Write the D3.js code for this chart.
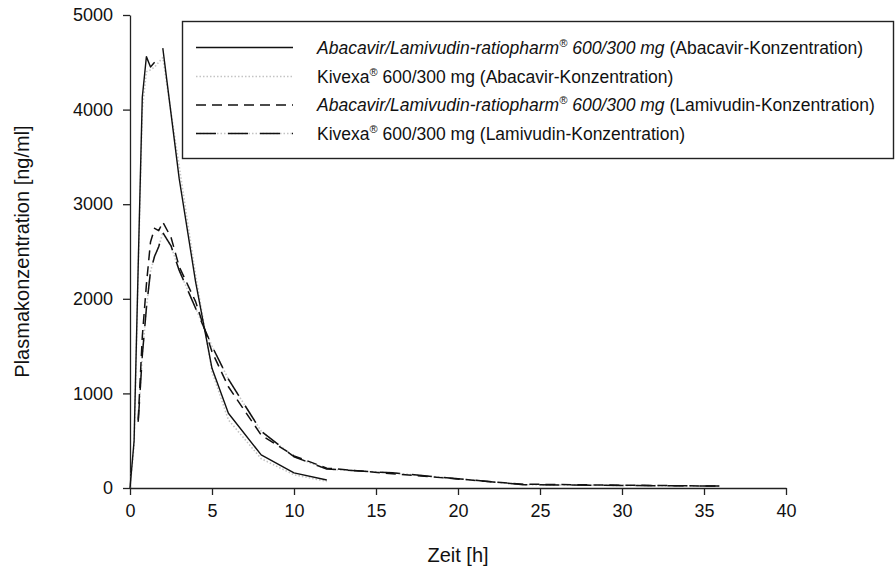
<!DOCTYPE html>
<html>
<head>
<meta charset="utf-8">
<script src="https://cdn.jsdelivr.net/npm/d3@7"></script>
<style>
  body { margin: 0; background: #fff; }
  svg { font-family: "Liberation Sans", Arial, sans-serif; }
</style>
</head>
<body>
<div id="chart"></div>
<script>
// Zeitpunkte [h]
const timeAbacavir = [0, 0.25, 0.5, 0.75, 1, 1.25, 1.5, 1.75, 2, 3, 4, 5, 6, 8, 10, 12];
const timeLamivudin = [0.5, 0.75, 1, 1.25, 1.5, 1.75, 2, 2.5, 3, 4, 5, 6, 8, 10, 12, 16, 24, 36];

// Plasmakonzentration [ng/ml] (null = Lücke in der Kurve)
const abacavirRatiopharm = [0, 500, 2350, 4130, 4560, 4450, 4500, null, 4650, 3270, 2180, 1265, 790, 350, 160, 85];
const abacavirKivexa = [0, 450, 2300, 4000, 4400, 4420, 4450, 4500, 4550, 3400, 2250, 1230, 720, 310, 140, 70];
const lamivudinRatiopharm = [720, 1600, 2150, 2600, 2745, 2720, 2810, 2650, 2340, 1970, 1440, 1070, 560, 340, 210, 150, 40, 20];
const lamivudinKivexa = [700, 1400, 1900, 2290, 2450, 2550, 2700, 2560, 2300, 1900, 1500, 1150, 600, 330, 200, 160, 35, 20];

const xTicks = [0, 5, 10, 15, 20, 25, 30, 35, 40];
const yTicks = [0, 1000, 2000, 3000, 4000, 5000];

const width = 896, height = 572;
const margin = {top: 15, right: 110, bottom: 84, left: 130};

const svg = d3.select('#chart')
    .append('svg')
    .attr('width', width)
    .attr('height', height);

const x = d3.scaleLinear()
    .domain([0, 40])
    .range([margin.left, width - margin.right]);

const y = d3.scaleLinear()
    .domain([0, 5000])
    .range([height - margin.bottom, margin.top]);

// axes
const xAxis = svg.append('g')
    .attr('transform', `translate(0, ${y(0)})`)
    .call(d3.axisBottom(x).tickValues(xTicks).tickFormat(d3.format('d'))
        .tickSize(7).tickPadding(9).tickSizeOuter(0));

const yAxis = svg.append('g')
    .attr('transform', `translate(${x(0)}, 0)`)
    .call(d3.axisLeft(y).tickValues(yTicks).tickFormat(d3.format('d'))
        .tickSize(7).tickPadding(10).tickSizeOuter(0));

[xAxis, yAxis].forEach(g => {
    g.select('.domain').attr('stroke', '#222').attr('stroke-width', 1.3);
    g.selectAll('.tick line').attr('stroke', '#222').attr('stroke-width', 1.3);
    g.selectAll('.tick text').attr('fill', '#111').style('font-size', '18px');
});

// axis titles
svg.append('text')
    .attr('x', (x(0) + x(40)) / 2)
    .attr('y', 562)
    .attr('text-anchor', 'middle')
    .style('font-size', '20px')
    .attr('fill', '#111')
    .text('Zeit [h]');

svg.append('g')
    .attr('transform', `translate(29, ${(y(0) + y(5000)) / 2}) rotate(-90)`)
    .append('text')
    .attr('text-anchor', 'middle')
    .style('font-size', '20px')
    .attr('fill', '#111')
    .text('Plasmakonzentration [ng/ml]');

// series styles
const series = [
    {t: timeAbacavir, v: abacavirKivexa,
        layers: [{stroke: '#c4c4c4', dash: '1.5,2', w: 1.6}]},
    {t: timeLamivudin, v: lamivudinKivexa,
        layers: [{stroke: '#c4c4c4', dash: '1.5,2', w: 1.6}, {stroke: '#111', dash: '20,12', w: 1.5}]},
    {t: timeLamivudin, v: lamivudinRatiopharm,
        layers: [{stroke: '#111', dash: '10,6', w: 1.5}]},
    {t: timeAbacavir, v: abacavirRatiopharm,
        layers: [{stroke: '#111', dash: null, w: 1.4}]}
];

const line = d3.line()
    .defined(d => d[1] !== null)
    .x(d => x(d[0]))
    .y(d => y(d[1]));

series.forEach(s => {
    const pts = s.t.map((t, i) => [t, s.v[i]]);
    s.layers.forEach(l => {
        svg.append('path')
            .datum(pts)
            .attr('fill', 'none')
            .attr('stroke', l.stroke)
            .attr('stroke-width', l.w)
            .attr('stroke-dasharray', l.dash)
            .attr('stroke-linejoin', 'round')
            .attr('d', line);
    });
});

// legend
const legend = svg.append('g');
legend.append('rect')
    .attr('x', 182.5).attr('y', 21.5)
    .attr('width', 711).attr('height', 137)
    .attr('fill', '#fff')
    .attr('stroke', '#222')
    .attr('stroke-width', 1.4);

const legendItems = [
    {s: series[3], italic: true, conc: 'Abacavir'},
    {s: series[0], italic: false, conc: 'Abacavir'},
    {s: series[2], italic: true, conc: 'Lamivudin'},
    {s: series[1], italic: false, conc: 'Lamivudin'}
];
const rowY = [47.5, 76.5, 105, 133.5];

legendItems.forEach((item, i) => {
    const yy = rowY[i];
    item.s.layers.forEach(l => {
        legend.append('line')
            .attr('x1', 196).attr('x2', 293)
            .attr('y1', yy).attr('y2', yy)
            .attr('stroke', l.stroke)
            .attr('stroke-width', l.w)
            .attr('stroke-dasharray', l.dash);
    });
    const txt = legend.append('text')
        .attr('x', 317)
        .attr('y', yy + 6)
        .style('font-size', '17.5px')
        .attr('fill', '#111');
    const style = item.italic ? 'italic' : 'normal';
    txt.append('tspan').style('font-style', style)
        .text(item.italic ? 'Abacavir/Lamivudin-ratiopharm' : 'Kivexa');
    txt.append('tspan').style('font-style', style).style('font-size', '11px').attr('dy', -7).text('®');
    txt.append('tspan').style('font-style', style).attr('dy', 7).text(' 600/300 mg');
    txt.append('tspan').text(` (${item.conc}-Konzentration)`);
});
</script>
</body>
</html>
